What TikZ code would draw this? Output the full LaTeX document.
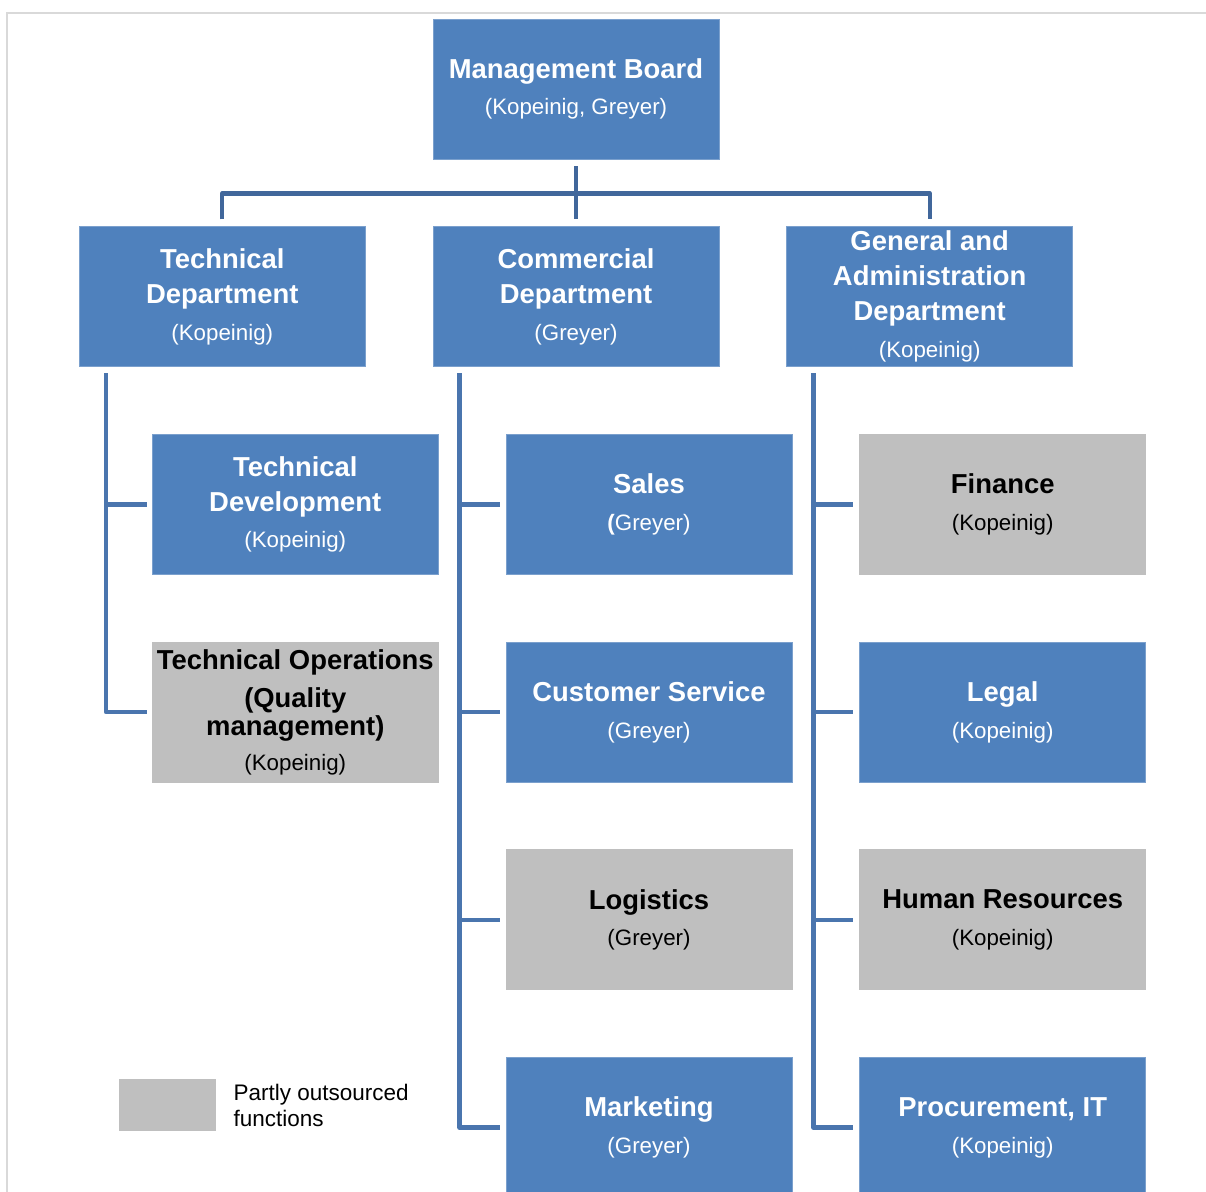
\documentclass[tikz,border=0pt]{standalone}
\usepackage{fontspec}
\setmainfont{Liberation Sans}
\usepackage{tikz}
\usetikzlibrary{positioning,calc}
\usepackage{xcolor}
\definecolor{orgblue}{HTML}{4F81BD}
\definecolor{orggray}{HTML}{BFBFBF}
\definecolor{trunkblue}{HTML}{41679B}
\definecolor{branchblue}{HTML}{4A75AE}
\definecolor{framegray}{HTML}{D9D9D9}
\newcommand{\subline}[1]{{\fontsize{12.7pt}{19.9pt}\selectfont\mdseries #1}}
\tikzset{
  unitbox/.style={
    rectangle,
    fill=orgblue,
    draw=orgblue!75!white,
    thin,
    text=white,
    minimum width=5.72cm,
    minimum height=2.8cm,
    inner sep=0pt,
    align=center,
    font=\fontsize{15.6pt}{19.9pt}\selectfont\bfseries,
    execute at begin node=\rule{0pt}{19pt}
  },
  outbox/.style={
    unitbox,
    fill=orggray,
    draw=orggray,
    text=black
  },
  trunk/.style={
    line width=2.5pt,
    draw=trunkblue,
    line join=round
  },
  branch/.style={
    line width=2.5pt,
    draw=branchblue,
    line join=round
  }
}
\begin{document}
\begin{tikzpicture}[node distance=1.34cm]
\useasboundingbox (-11.52,-22.06) rectangle (12.6,1.78);
% frame of the page
\draw[framegray, line width=1.1pt] (-11.38,-22.06) -- (-11.38,1.52) -- (12.6,1.52);

% management and departments
\node[unitbox] (board) {Management Board\\[1pt]\subline{(Kopeinig, Greyer)}};
\node[unitbox, below=of board] (comm) {Commercial\\Department\\[1pt]\subline{(Greyer)}};
\node[unitbox, left=of comm] (tech) {Technical\\Department\\[1pt]\subline{(Kopeinig)}};
\node[unitbox, right=of comm] (admin) {General and\\Administration\\Department\\[1pt]\subline{(Kopeinig)}};

% technical units
\node[unitbox, below=of tech, xshift=1.46cm] (techdev) {Technical\\Development\\[1pt]\subline{(Kopeinig)}};
\node[outbox, below=of techdev] (techops) {Technical Operations\\[2pt](Quality\\[-4pt]management)\\\subline{(Kopeinig)}};

% commercial units
\node[unitbox, below=of comm, xshift=1.46cm] (sales) {Sales\\[1pt]\subline{\textbf{(}Greyer)}};
\node[unitbox, below=of sales] (service) {Customer Service\\[1pt]\subline{(Greyer)}};
\node[outbox, below=of service] (logistics) {Logistics\\[1pt]\subline{(Greyer)}};
\node[unitbox, below=of logistics] (marketing) {Marketing\\[1pt]\subline{(Greyer)}};

% administration units
\node[outbox, below=of admin, xshift=1.46cm] (finance) {Finance\\[1pt]\subline{(Kopeinig)}};
\node[unitbox, below=of finance] (legal) {Legal\\[1pt]\subline{(Kopeinig)}};
\node[outbox, below=of legal] (hr) {Human Resources\\[1pt]\subline{(Kopeinig)}};
\node[unitbox, below=of hr] (procure) {Procurement, IT\\[1pt]\subline{(Kopeinig)}};

% legend
\node[fill=orggray, minimum width=1.94cm, minimum height=1.04cm, inner sep=0pt] (legend) at (-8.17,-20.32) {};
\node[right=0.34cm of legend, inner sep=0pt, align=left, font=\fontsize{12.8pt}{14.8pt}\selectfont] (legendtext) {Partly outsourced\\functions};

% top connectors
\coordinate (hub) at ($(board.south)+(0,-0.68)$);
\draw[trunk] ([yshift=-0.14cm]board.south) -- ([yshift=0.14cm]comm.north);
\draw[trunk] ([yshift=0.14cm]tech.north) -- (tech.north |- hub) -- (admin.north |- hub) -- ([yshift=0.14cm]admin.north);

% department spines
\coordinate (techtop) at ([xshift=0.54cm,yshift=-0.12cm]tech.south west);
\coordinate (commtop) at ([xshift=0.54cm,yshift=-0.12cm]comm.south west);
\coordinate (admintop) at ([xshift=0.54cm,yshift=-0.12cm]admin.south west);
\draw[branch] (techtop) |- ([xshift=-0.1cm]techops.west);
\draw[branch] (techtop |- techdev.west) -- ([xshift=-0.1cm]techdev.west);
\draw[branch] (commtop) |- ([xshift=-0.12cm]marketing.west);
\foreach \u in {sales,service,logistics}
  \draw[branch] (commtop |- \u.west) -- ([xshift=-0.12cm]\u.west);
\draw[branch] (admintop) |- ([xshift=-0.12cm]procure.west);
\foreach \u in {finance,legal,hr}
  \draw[branch] (admintop |- \u.west) -- ([xshift=-0.12cm]\u.west);
\end{tikzpicture}
\end{document}
